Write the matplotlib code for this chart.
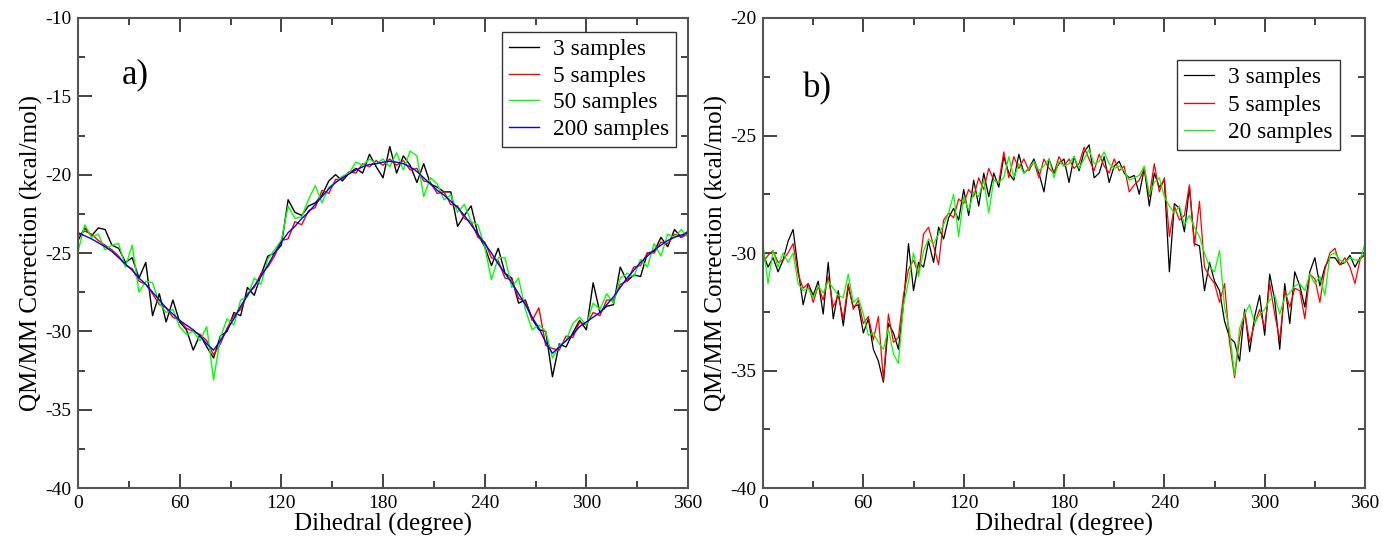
import numpy as np
import matplotlib
matplotlib.use('Agg')
from matplotlib import pyplot as plt
from matplotlib.ticker import MultipleLocator

# panel a) data, 4 degree steps
angle_a = np.arange(0, 361, 4)

a_200 = [-23.7, -23.9, -24.1, -24.35, -24.6, -24.9, -25.3, -25.7, -26.1, -26.6,
         -27.0, -27.5, -28.0, -28.5, -28.9, -29.3, -29.6, -29.9, -30.3, -30.8,
         -31.2, -30.6, -29.9, -29.2, -28.4, -27.7, -27.1, -26.5, -25.8, -25.0,
         -24.3, -23.7, -23.3, -22.8, -22.4, -21.9, -21.4, -20.9, -20.5, -20.2,
         -19.95, -19.7, -19.5, -19.35, -19.3, -19.2, -19.15, -19.2, -19.3, -19.5,
         -19.8, -20.2, -20.6, -21.0, -21.3, -21.7, -22.1, -22.6, -23.2, -23.8,
         -24.4, -25.0, -25.7, -26.3, -26.9, -27.6, -28.3, -29.1, -29.8, -30.7,
         -31.4, -31.0, -30.6, -30.2, -29.7, -29.4, -29.1, -28.8, -28.3, -27.8,
         -27.2, -26.6, -26.1, -25.6, -25.2, -24.8, -24.5, -24.2, -24.0, -23.85,
         -23.7]

a_5 = [-23.9, -23.6, -23.8, -24.2, -24.5, -24.8, -25.2, -25.8, -26.0, -26.8,
       -27.0, -27.6, -28.3, -28.5, -29.1, -29.3, -29.8, -30.0, -30.2, -30.6,
       -31.5, -30.8, -29.8, -29.0, -28.6, -27.6, -27.2, -26.3, -25.9, -25.2,
       -24.2, -24.1, -23.0, -23.2, -22.3, -22.1, -21.0, -21.2, -20.3, -20.3,
       -19.8, -19.9, -19.3, -19.5, -19.1, -19.4, -19.0, -19.4, -19.1, -19.7,
       -19.6, -20.4, -20.5, -21.2, -21.1, -21.9, -22.0, -22.8, -23.0, -24.0,
       -24.3, -25.3, -25.5, -26.6, -26.7, -27.9, -28.1, -29.3, -28.5, -30.9,
       -31.1, -31.2, -30.3, -30.4, -29.4, -29.6, -28.8, -29.0, -28.0, -28.0,
       -27.0, -26.8, -25.9, -25.8, -25.0, -25.0, -24.3, -24.4, -23.8, -24.0,
       -23.8]

a_3 = [-24.2, -23.4, -23.9, -23.4, -23.5, -24.5, -24.7, -25.6, -25.3, -26.6,
       -25.6, -29.0, -27.6, -29.4, -28.0, -29.4, -29.9, -31.2, -30.2, -31.0,
       -31.7, -30.3, -30.0, -28.8, -29.0, -27.2, -27.7, -26.4, -25.2, -25.0,
       -24.5, -21.6, -22.4, -22.6, -22.0, -21.8, -21.3, -20.4, -20.0, -20.4,
       -19.9, -19.6, -19.9, -18.7, -19.5, -20.2, -18.2, -19.9, -18.8, -19.4,
       -20.5, -19.3, -20.6, -20.8, -21.1, -21.1, -23.3, -22.6, -22.0, -23.8,
       -24.6, -25.8, -24.7, -26.3, -26.6, -28.2, -28.0, -29.2, -29.9, -30.0,
       -32.9, -30.8, -31.0, -30.1, -29.3, -29.9, -26.9, -28.8, -28.4, -28.3,
       -25.9, -26.8, -26.4, -26.5, -25.0, -24.9, -24.0, -24.6, -23.5, -24.0,
       -23.6]

a_50 = [-24.9, -23.2, -24.0, -23.8, -24.8, -24.5, -24.4, -25.9, -24.5, -27.5,
        -26.8, -26.9, -28.2, -28.8, -28.6, -29.7, -30.2, -30.0, -30.6, -29.7,
        -33.1, -30.4, -29.2, -29.6, -28.0, -27.8, -26.6, -27.0, -25.4, -24.8,
        -24.2, -22.0, -22.8, -22.7, -21.6, -20.7, -21.8, -20.8, -20.5, -20.1,
        -19.9, -19.2, -19.4, -19.0, -19.3, -19.0, -19.5, -18.6, -19.7, -18.5,
        -18.8, -21.4, -20.2, -20.6, -21.6, -21.3, -22.4, -21.9, -23.0, -23.2,
        -24.6, -26.7, -25.3, -25.3, -27.2, -26.6, -28.6, -29.9, -29.6, -30.0,
        -31.7, -30.9, -30.6, -29.5, -29.1, -29.6, -28.2, -28.6, -27.6, -28.2,
        -26.6, -26.3, -26.5, -25.4, -25.9, -24.4, -25.2, -23.8, -24.0, -23.5,
        -24.0]

# panel b) data, 3 degree steps
angle_b = np.arange(0, 361, 3)

b_3 = [-30.0, -30.6, -30.2, -30.8, -30.3, -29.5, -29.0, -30.7, -32.2, -31.3,
       -31.8, -31.2, -32.6, -30.4, -32.8, -31.6, -33.1, -31.4, -32.3, -32.2,
       -33.4, -32.8, -34.1, -34.6, -35.5, -33.0, -33.4, -34.1, -32.2, -29.6,
       -31.6, -30.4, -30.6, -29.5, -30.4, -28.9, -29.4, -28.5, -28.1, -28.6,
       -27.3, -28.4, -26.9, -28.0, -26.6, -27.6, -26.6, -27.2, -25.9, -26.6,
       -26.9, -25.8, -26.6, -26.4, -26.0, -26.6, -27.4, -26.0, -26.6, -26.2,
       -26.0, -27.0, -25.9, -26.5, -25.7, -25.4, -26.8, -26.6, -25.9, -27.0,
       -26.3, -26.1, -26.6, -26.8, -26.7, -27.5, -26.4, -28.0, -26.6, -27.2,
       -26.9, -30.8, -27.9, -28.1, -29.1, -27.2, -29.6, -29.7, -31.6, -30.4,
       -31.2, -31.6, -32.9, -33.6, -33.8, -34.6, -32.4, -34.2, -32.7, -31.8,
       -33.5, -30.9, -32.0, -34.1, -31.3, -33.0, -30.8, -31.4, -32.3, -30.8,
       -30.2, -31.4, -30.6, -30.2, -30.2, -30.5, -30.4, -30.1, -30.6, -30.2,
       -30.1]

b_5 = [-30.4, -30.1, -29.9, -30.4, -30.3, -30.0, -29.6, -30.9, -31.5, -31.3,
       -32.1, -31.4, -32.0, -31.0, -32.3, -31.8, -32.8, -31.3, -32.4, -32.0,
       -33.0, -32.7, -33.7, -32.7, -35.4, -32.6, -33.8, -33.6, -31.8, -30.7,
       -30.3, -30.9, -29.2, -28.9, -29.7, -30.5, -28.6, -28.3, -28.5, -27.7,
       -27.9, -27.3, -27.6, -26.8, -27.3, -26.4, -26.9, -27.0, -25.7, -26.8,
       -25.9, -26.4, -26.0, -26.5, -26.1, -26.8, -26.0, -26.4, -26.6, -25.9,
       -26.3, -26.0, -26.4, -26.2, -25.5, -26.0, -26.5, -25.8, -26.3, -26.6,
       -26.0, -26.5, -26.3, -27.4, -27.1, -26.9, -26.4, -27.6, -26.2, -27.4,
       -26.8, -29.3, -28.0, -28.6, -28.4, -27.1, -29.7, -27.8, -30.6, -31.0,
       -31.3, -32.1, -31.3, -33.8, -35.3, -33.6, -32.5, -33.8, -33.0, -32.4,
       -33.2, -31.3, -32.6, -33.7, -31.6, -32.3, -31.5, -31.6, -32.8, -30.9,
       -31.1, -32.1, -30.7, -30.0, -29.8, -30.5, -30.2, -30.6, -31.3, -30.3,
       -30.0]

b_20 = [-29.6, -31.3, -29.9, -30.6, -30.0, -30.4, -30.0, -31.3, -31.6, -31.5,
        -31.9, -31.4, -31.7, -31.2, -31.5, -31.8, -31.9, -30.9, -32.1, -31.9,
        -32.6, -33.5, -33.4, -33.8, -34.1, -33.2, -34.3, -34.7, -32.2, -31.2,
        -30.0, -31.0, -29.9, -29.4, -29.6, -29.2, -28.8, -28.3, -27.5, -29.3,
        -27.6, -28.2, -27.4, -27.6, -26.9, -28.3, -26.9, -27.0, -26.8, -25.9,
        -26.8, -26.2, -26.6, -26.4, -26.1, -26.5, -26.3, -26.0, -26.8, -26.1,
        -26.3, -26.2, -25.9, -26.4, -26.0, -25.6, -26.2, -26.1, -25.7, -26.2,
        -26.4, -26.3, -26.5, -26.9, -26.8, -26.7, -26.3, -27.5, -27.0, -26.8,
        -27.6, -28.0, -28.3, -28.0, -28.8, -28.4, -28.9, -29.3, -30.0, -30.6,
        -30.8, -29.9, -32.3, -33.3, -35.2, -33.2, -32.6, -32.2, -33.0, -32.6,
        -32.4, -32.0, -31.8, -32.6, -31.9, -31.7, -31.4, -31.3, -31.6, -30.9,
        -31.3, -31.0, -31.8, -30.1, -30.0, -30.3, -30.4, -30.2, -30.3, -30.3,
        -29.6]

plt.rcParams['font.family'] = ['Liberation Serif', 'DejaVu Serif']
plt.rcParams['axes.unicode_minus'] = False

fig = plt.figure(figsize=(13.83, 5.42), dpi=100)
ax_a = fig.add_axes([0.0564, 0.0996, 0.4411, 0.8672])
ax_b = fig.add_axes([0.5517, 0.0996, 0.4353, 0.8672])


def style_axes(ax, ylim, label, label_pos):
    ax.set_xlim(0, 360)
    ax.set_ylim(*ylim)
    ax.xaxis.set_major_locator(MultipleLocator(60))
    ax.xaxis.set_minor_locator(MultipleLocator(30))
    ax.yaxis.set_major_locator(MultipleLocator(5))
    ax.yaxis.set_minor_locator(MultipleLocator(2.5))
    ax.tick_params(which='both', direction='in', top=True, right=True,
                   color='#222222', labelsize=14, pad=5)
    ax.tick_params(which='major', length=10, width=1.2)
    ax.tick_params(which='minor', length=5, width=1.2)
    for s in ax.spines.values():
        s.set_color('#555555')
        s.set_linewidth(1.5)
    ax.set_xlabel('Dihedral (degree)', fontsize=18, labelpad=1)
    ax.set_ylabel('QM/MM Correction (kcal/mol)', fontsize=18, labelpad=1)
    ax.text(label_pos[0], label_pos[1], label, transform=ax.transAxes,
            fontsize=25, ha='left', va='center')


def add_legend(ax, anchor, spacing):
    leg = ax.legend(loc='upper right', bbox_to_anchor=anchor, borderaxespad=0,
                    fontsize=16.8, fancybox=False, framealpha=1,
                    edgecolor='#333333', handlelength=1.3, handletextpad=0.6,
                    labelspacing=spacing, borderpad=0.3)
    leg.get_frame().set_linewidth(1.0)


ax_a.plot(angle_a, a_3, color='black', lw=1.0, label='3 samples')
ax_a.plot(angle_a, a_5, color='red', lw=1.0, label='5 samples')
ax_a.plot(angle_a, a_50, color='#00ff00', lw=1.0, label='50 samples')
ax_a.plot(angle_a, a_200, color='blue', lw=1.0, label='200 samples')
style_axes(ax_a, (-40, -10), 'a)', (0.072, 0.88))
add_legend(ax_a, (0.981, 0.970), 0.22)

ax_b.plot(angle_b, b_3, color='black', lw=0.9, label='3 samples')
ax_b.plot(angle_b, b_5, color='red', lw=0.9, label='5 samples')
ax_b.plot(angle_b, b_20, color='#00ff00', lw=0.9, label='20 samples')
style_axes(ax_b, (-40, -20), 'b)', (0.067, 0.85))
add_legend(ax_b, (0.958, 0.911), 0.27)

fig.savefig('out.png', dpi=100)
